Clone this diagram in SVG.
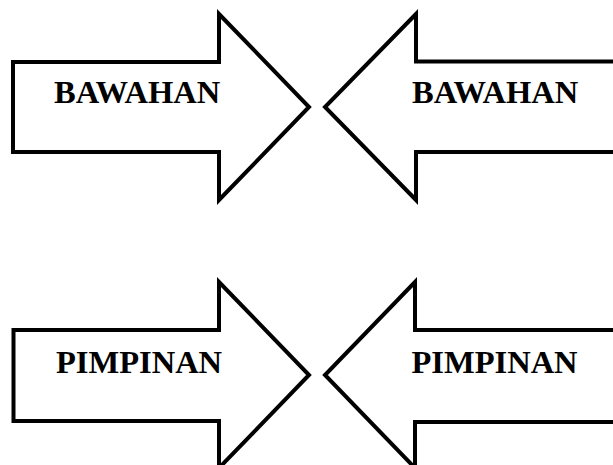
<svg xmlns="http://www.w3.org/2000/svg" width="613" height="465" viewBox="0 0 613 465">
<style>
.arrow{fill:#fff;stroke:#000;stroke-width:4;stroke-linejoin:miter;stroke-miterlimit:10}
.lbl{font-family:"Liberation Serif","Times New Roman",serif;font-weight:bold;font-size:32.5px;fill:#000}
</style>
<rect width="613" height="465" fill="#fff"/>
<g id="arrow-bawahan-left">
<path class="arrow" d="M13,62 H219 V14 L309,107 L219,200 V152 H13 Z"/>
<text class="lbl" x="54" y="103">BAWAHAN</text>
</g>
<g id="arrow-bawahan-right">
<path class="arrow" d="M630,61.5 H416 V14 L325,107 L416,200 V152 H630 Z"/>
<text class="lbl" x="412" y="103">BAWAHAN</text>
</g>
<g id="arrow-pimpinan-left">
<path class="arrow" d="M13.5,330 H219 V282 L309,375 L219,468 V421 H13.5 Z"/>
<text class="lbl" x="56" y="373">PIMPINAN</text>
</g>
<g id="arrow-pimpinan-right">
<path class="arrow" d="M630,330 H415 V282 L325,375 L415,468 V422 H630 Z"/>
<text class="lbl" x="411.5" y="373">PIMPINAN</text>
</g>
</svg>
